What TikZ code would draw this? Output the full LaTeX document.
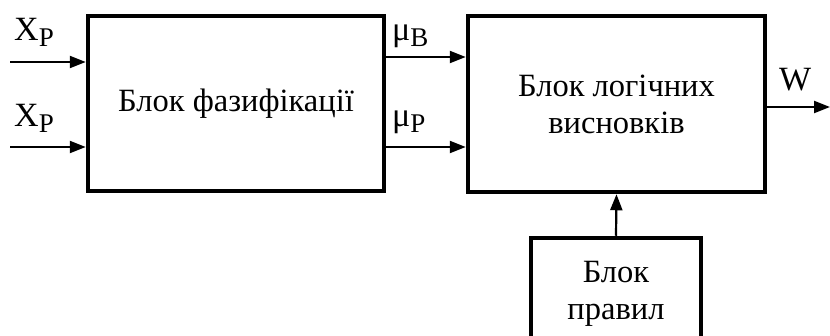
\documentclass[tikz,border=0pt]{standalone}
\usepackage{fontspec}
\setmainfont{Liberation Serif}
\usetikzlibrary{arrows.meta}
\tikzset{
  blk/.style={draw, line width=4.5pt, minimum width=#1, inner sep=0pt, align=center,
    font=\fontsize{32.5}{37}\selectfont},
  sig/.style={line width=2.2pt, -{Triangle[length=16pt,width=12pt]}},
  lbl/.style={inner sep=0pt, anchor=base west, font=\fontsize{34}{38}\selectfont}
}
\newcommand{\subP}[1]{\raisebox{-0.2em}{\fontsize{27}{27}\selectfont #1}}
\begin{document}
\begin{tikzpicture}[x=1pt,y=-1pt]
\clip (0,0) rectangle (830,335);
\fill[white] (0,0) rectangle (830,335);
\node[blk=296pt, minimum height=175pt] (fz) at (236,103.5) {Блок фазифікації};
\node[blk=297pt, minimum height=176pt] (lg) at (616.5,104) {Блок логічних\\висновків};
\node[blk=170pt, minimum height=112pt] (pr) at (616,294) {Блок\\правил};
\coordinate (i1) at (10,62);
\coordinate (i2) at (10,147);
\coordinate (w) at (830,107);
\draw[sig] (i1) -- (i1 -| fz.west);
\draw[sig] (i2) -- (i2 -| fz.west);
\draw[sig] (fz.east |- 0,57) -- (lg.west |- 0,57);
\draw[sig] (fz.east |- 0,147) -- (lg.west |- 0,147);
\draw[sig] (lg.east |- w) -- (w);
\draw[sig] (pr.north) -- (lg.south);
\node[lbl] (x1) at (14,40) {X\subP{P}};
\node[lbl] (x2) at (14,126) {X\subP{P}};
\node[lbl] (mb) at (392,40) {μ\subP{B}};
\node[lbl] (mp) at (392,126) {μ\subP{P}};
\node[lbl] (wl) at (779,90) {W};
\end{tikzpicture}
\end{document}
